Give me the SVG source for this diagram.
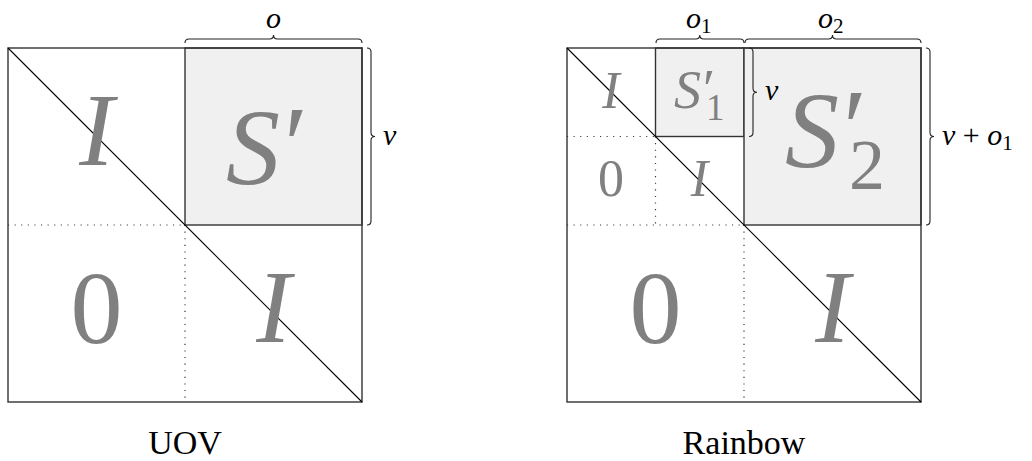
<svg xmlns="http://www.w3.org/2000/svg" width="1032" height="461" viewBox="0 0 1032 461" font-family="'Liberation Serif', 'Times New Roman', Times, 'DejaVu Serif', serif">
<style>
.frame{fill:none;stroke:#333;stroke-width:1.4}
.shade{fill:#f0f0f0;stroke:#333;stroke-width:1.4}
.diag{stroke:#000;stroke-width:1.1;fill:none}
.dot{stroke:#333;stroke-width:1.2;stroke-dasharray:1.1 5.5;fill:none}
.brace{fill:none;stroke:#222;stroke-width:1.1}
.big{font-style:italic;fill:#808080}
.bign{font-style:normal;fill:#808080}
.math{font-style:italic;font-size:30px;fill:#000}
.rm{font-style:normal;fill:#000}
.cap{font-size:34px;fill:#000;text-anchor:middle}
</style>
<g id="uov">
  <rect class="shade" x="185" y="48" width="177" height="177"/>
  <rect class="frame" x="8" y="48" width="354" height="354"/>
  <path class="dot" d="M8,225 H185 M185,225 V402"/>
  <path class="diag" d="M8,48 L362,402"/>
  <text class="big" x="96.5" y="165" font-size="104" text-anchor="middle">I</text>
  <text class="bign" x="96.5" y="343" font-size="104" text-anchor="middle">0</text>
  <text class="big" x="273.5" y="342" font-size="104" text-anchor="middle">I</text>
  <text class="big" x="226" y="184" font-size="108">S<tspan class="bign" font-size="110" dx="4" dy="-2">′</tspan></text>
  <path class="brace" d="M185,43 q0,-4 4,-4 H269.5 q4,0 4,-4 q0,4 4,4 H358 q4,0 4,4"/>
  <text class="math" x="273.5" y="28" text-anchor="middle">o</text>
  <path class="brace" d="M367,48 q4,0 4,4 V132.5 q0,4 4,4 q-4,0 -4,4 V221 q0,4 -4,4"/>
  <text class="math" x="383" y="145">v</text>
  <text class="cap" x="185" y="454">UOV</text>
</g>
<g id="rainbow">
  <rect class="shade" x="655.5" y="48" width="88.5" height="88.5"/>
  <rect class="shade" x="744" y="48" width="177" height="177"/>
  <rect class="frame" x="567" y="48" width="354" height="354"/>
  <path class="dot" d="M567,225 H744 M744,225 V402 M567,136.5 H655.5 M655.5,136.5 V225"/>
  <path class="diag" d="M567,48 L921,402"/>
  <text class="big" x="611" y="108" font-size="52" text-anchor="middle">I</text>
  <text class="bign" x="611" y="196" font-size="52" text-anchor="middle">0</text>
  <text class="big" x="699.5" y="196" font-size="52" text-anchor="middle">I</text>
  <text class="bign" x="655.5" y="343" font-size="104" text-anchor="middle">0</text>
  <text class="big" x="832.5" y="342" font-size="104" text-anchor="middle">I</text>
  <text class="big" x="674" y="108" font-size="54">S<tspan class="bign" font-size="55" dx="2" dy="-1">′</tspan><tspan class="bign" font-size="37" dx="-9" dy="13">1</tspan></text>
  <text class="big" x="785" y="167" font-size="108">S<tspan class="bign" font-size="110" dx="4" dy="-2">′</tspan><tspan class="bign" font-size="72" dx="-18" dy="24">2</tspan></text>
  <path class="brace" d="M656,43 q0,-4 4,-4 H695.75 q4,0 4,-4 q0,4 4,4 H740 q4,0 4,4"/>
  <text class="math" x="686" y="28">o<tspan class="rm" font-size="21" dy="5">1</tspan></text>
  <path class="brace" d="M745,43 q0,-4 4,-4 H828.5 q4,0 4,-4 q0,4 4,4 H917 q4,0 4,4"/>
  <text class="math" x="818" y="28">o<tspan class="rm" font-size="21" dy="5">2</tspan></text>
  <path class="brace" d="M749,48 q4,0 4,4 V88.25 q0,4 4,4 q-4,0 -4,4 V132.5 q0,4 -4,4"/>
  <text class="math" x="765" y="100">v</text>
  <path class="brace" d="M926,48 q4,0 4,4 V132.5 q0,4 4,4 q-4,0 -4,4 V221 q0,4 -4,4"/>
  <text class="math" x="942" y="145">v <tspan class="rm">+</tspan> o<tspan class="rm" font-size="21" dy="5">1</tspan></text>
  <text class="cap" x="744" y="454">Rainbow</text>
</g>
</svg>
